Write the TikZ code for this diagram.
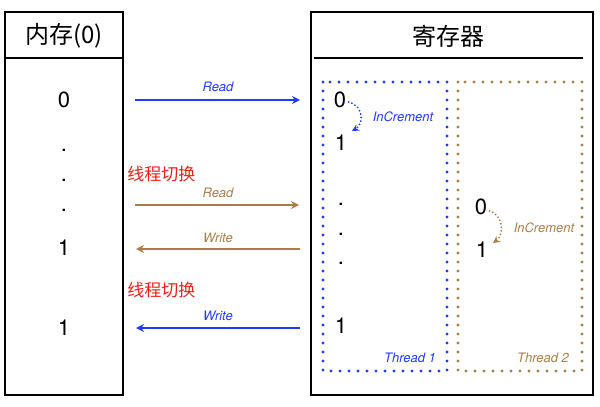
\documentclass[tikz,border=0pt]{standalone}
\usepackage{fontspec}
\setmainfont{TeX Gyre Heros}
\newfontfamily\cjk{Noto Sans CJK SC}
\usetikzlibrary{arrows.meta}
\definecolor{thrblue}{RGB}{30,60,250}
\definecolor{thrbrown}{RGB}{170,125,70}
\definecolor{swred}{RGB}{240,30,20}

\begin{document}
\begin{tikzpicture}[
  x=0.5pt, y=-0.5pt,
  every node/.style={inner sep=0pt},
  frame/.style={draw, line width=1.2pt},
  head/.style={font=\cjk\fontsize{12}{14}\selectfont},
  val/.style={font=\fontsize{11}{13}\selectfont},
  thr/.style={line width=1.6pt, line cap=round, dash pattern=on 0pt off 4.5pt},
  lbl/.style={font=\itshape\fontsize{6.5}{8}\selectfont},
  sw/.style={font=\cjk\fontsize{8.5}{10}\selectfont, text=swred, anchor=west},
  arr/.style={-{Stealth[length=4pt, width=4pt]}, line width=0.8pt},
  incarr/.style={-{Stealth[length=3.5pt, width=3.5pt]}, line width=1pt,
                 line cap=round, dash pattern=on 0pt off 1.8pt},
]
\useasboundingbox (0,0) rectangle (600,407);

% --- memory column
\draw[frame] (5,12) rectangle (123,395);
\draw[frame] (5,58) -- (123,58);
\node[head] (memh) at (64,36) {内存(0)};
\node[val] (m0) at (64,100) {0};
\node[val] (md1) at (64,150) {.};
\node[val] (md2) at (64,180) {.};
\node[val] (md3) at (64,210) {.};
\node[val] (m1) at (64,248) {1};
\node[val] (m2) at (64,328) {1};

% --- register column
\draw[frame] (311,12) rectangle (593,395);
\draw[frame] (314,58) -- (583,58);
\node[head] (regh) at (448,36) {寄存器};

% --- thread 1
\draw[thr, thrblue] (323,82) rectangle (447,371);
\node[val] (a0) at (340,100) {0};
\node[val] (a1) at (341,143) {1};
\node[val] (ad1) at (341,204) {.};
\node[val] (ad2) at (341,234) {.};
\node[val] (ad3) at (341,263) {.};
\node[val] (a2) at (341,326) {1};
\draw[incarr, thrblue] (a0.east) ++(2,2) .. controls (364,106) and (364,124) .. (352,131);
\node[lbl, text=thrblue] (inc1) at (403,117) {InCrement};
\node[lbl, text=thrblue] (t1) at (410,358) {Thread 1};

% --- thread 2
\draw[thr, thrbrown] (458,82) rectangle (582,371);
\node[val] (b0) at (481,207) {0};
\node[val] (b1) at (482,250) {1};
\draw[incarr, thrbrown] (b0.east) ++(2,4) .. controls (504,215) and (504,235) .. (493,243);
\node[lbl, text=thrbrown] (inc2) at (544,228) {InCrement};
\node[lbl, text=thrbrown] (t2) at (543,358) {Thread 2};

% --- transfers
\coordinate (r1s) at (135,100);  \coordinate (r1e) at (300,100);
\coordinate (r2s) at (135,205);  \coordinate (r2e) at (299,205);
\coordinate (w1s) at (300,249);  \coordinate (w1e) at (136,249);
\coordinate (w2s) at (300,328);  \coordinate (w2e) at (136,328);
\draw[arr, thrblue] (r1s) -- (r1e);
\node[lbl, text=thrblue] (rd1) at (218,87) {Read};
\node[sw] (sw1) at (127,174) {线程切换};
\draw[arr, thrbrown] (r2s) -- (r2e);
\node[lbl, text=thrbrown] (rd2) at (218,193) {Read};
\draw[arr, thrbrown] (w1s) -- (w1e);
\node[lbl, text=thrbrown] (wr1) at (218,238) {Write};
\node[sw] (sw2) at (127,290) {线程切换};
\draw[arr, thrblue] (w2s) -- (w2e);
\node[lbl, text=thrblue] (wr2) at (218,316) {Write};
\end{tikzpicture}
\end{document}
